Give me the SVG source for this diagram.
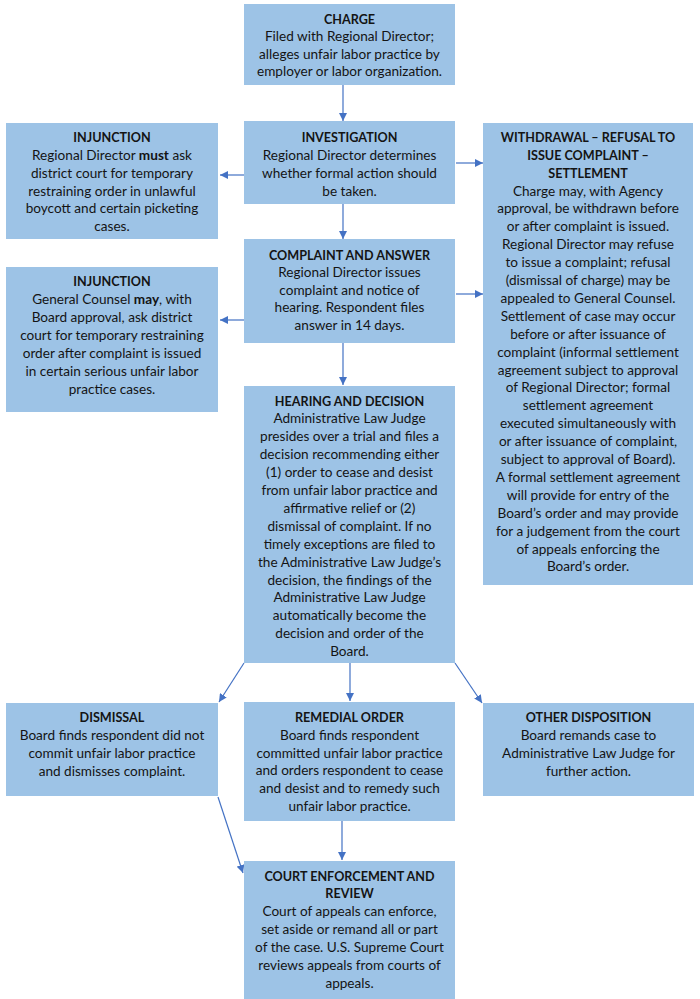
<svg xmlns="http://www.w3.org/2000/svg" width="700" height="999" viewBox="0 0 700 999">
<style>
.box{fill:#9DC3E6;}
text{font-family:Lato,"Liberation Sans",sans-serif;font-size:13.6px;fill:#141414;text-anchor:middle;}
.t{font-weight:bold;font-size:12.6px;}
.b{font-weight:bold;}
.c{stroke:#4472C4;stroke-width:1.2;fill:none;marker-end:url(#ah);}
</style>
<defs>
<marker id="ah" viewBox="0 0 10 10" refX="10" refY="5" markerWidth="8" markerHeight="8" markerUnits="userSpaceOnUse" orient="auto">
<path d="M0,0 L10,5 L0,10 z" fill="#4472C4"/>
</marker>
</defs>
<rect width="700" height="999" fill="#ffffff"/>
<g id="connectors">
<line class="c" x1="343" y1="85" x2="343" y2="121"/>
<line class="c" x1="343" y1="204" x2="343" y2="239"/>
<line class="c" x1="343" y1="343" x2="343" y2="385"/>
<line class="c" x1="244" y1="175" x2="220" y2="175"/>
<line class="c" x1="456" y1="163" x2="483" y2="163"/>
<line class="c" x1="244" y1="320" x2="220" y2="320"/>
<line class="c" x1="456" y1="294" x2="483" y2="294"/>
<line class="c" x1="244" y1="663" x2="219" y2="702"/>
<line class="c" x1="350" y1="663" x2="350" y2="701"/>
<line class="c" x1="455" y1="663" x2="482" y2="703"/>
<line class="c" x1="218" y1="797" x2="243" y2="873"/>
<line class="c" x1="342" y1="821" x2="342" y2="860"/>
</g>
<g id="charge">
<rect class="box" x="244" y="4" width="211" height="81"/>
<text class="t" x="349.5" y="23.5">CHARGE</text>
<text x="349.5" y="41.1">Filed with Regional Director;</text>
<text x="349.5" y="58.7">alleges unfair labor practice by</text>
<text x="349.5" y="76.3">employer or labor organization.</text>
</g>
<g id="investigation">
<rect class="box" x="244" y="121" width="211" height="83"/>
<text class="t" x="349.5" y="141.8">INVESTIGATION</text>
<text x="349.5" y="159.7">Regional Director determines</text>
<text x="349.5" y="177.6">whether formal action should</text>
<text x="349.5" y="195.5">be taken.</text>
</g>
<g id="injunction1">
<rect class="box" x="6" y="123" width="212" height="116"/>
<text class="t" x="112" y="141.8">INJUNCTION</text>
<text x="112" y="159.7">Regional Director <tspan class="b">must</tspan> ask</text>
<text x="112" y="177.6">district court for temporary</text>
<text x="112" y="195.5">restraining order in unlawful</text>
<text x="112" y="213.4">boycott and certain picketing</text>
<text x="112" y="231.3">cases.</text>
</g>
<g id="withdrawal">
<rect class="box" x="483" y="123" width="210" height="462"/>
<text class="t" x="588" y="141.8">WITHDRAWAL – REFUSAL TO</text>
<text class="t" x="588" y="159.7">ISSUE COMPLAINT –</text>
<text class="t" x="588" y="177.6">SETTLEMENT</text>
<text x="588" y="195.5">Charge may, with Agency</text>
<text x="588" y="213.4">approval, be withdrawn before</text>
<text x="588" y="231.3">or after complaint is issued.</text>
<text x="588" y="249.2">Regional Director may refuse</text>
<text x="588" y="267.1">to issue a complaint; refusal</text>
<text x="588" y="285.0">(dismissal of charge) may be</text>
<text x="588" y="302.9">appealed to General Counsel.</text>
<text x="588" y="320.8">Settlement of case may occur</text>
<text x="588" y="338.7">before or after issuance of</text>
<text x="588" y="356.6">complaint (informal settlement</text>
<text x="588" y="374.5">agreement subject to approval</text>
<text x="588" y="392.4">of Regional Director; formal</text>
<text x="588" y="410.3">settlement agreement</text>
<text x="588" y="428.2">executed simultaneously with</text>
<text x="588" y="446.1">or after issuance of complaint,</text>
<text x="588" y="464.0">subject to approval of Board).</text>
<text x="588" y="481.9">A formal settlement agreement</text>
<text x="588" y="499.8">will provide for entry of the</text>
<text x="588" y="517.7">Board’s order and may provide</text>
<text x="588" y="535.6">for a judgement from the court</text>
<text x="588" y="553.5">of appeals enforcing the</text>
<text x="588" y="571.4">Board’s order.</text>
</g>
<g id="complaint">
<rect class="box" x="244" y="239" width="211" height="104"/>
<text class="t" x="349.5" y="259.5">COMPLAINT AND ANSWER</text>
<text x="349.5" y="277.1">Regional Director issues</text>
<text x="349.5" y="294.7">complaint and notice of</text>
<text x="349.5" y="312.3">hearing. Respondent files</text>
<text x="349.5" y="329.9">answer in 14 days.</text>
</g>
<g id="injunction2">
<rect class="box" x="6" y="267" width="212" height="145"/>
<text class="t" x="112" y="286.2">INJUNCTION</text>
<text x="112" y="304.2">General Counsel <tspan class="b">may</tspan>, with</text>
<text x="112" y="322.2">Board approval, ask district</text>
<text x="112" y="340.2">court for temporary restraining</text>
<text x="112" y="358.2">order after complaint is issued</text>
<text x="112" y="376.2">in certain serious unfair labor</text>
<text x="112" y="394.2">practice cases.</text>
</g>
<g id="hearing">
<rect class="box" x="244" y="386" width="211" height="277"/>
<text class="t" x="349.5" y="405.5">HEARING AND DECISION</text>
<text x="349.5" y="423.4">Administrative Law Judge</text>
<text x="349.5" y="441.3">presides over a trial and files a</text>
<text x="349.5" y="459.2">decision recommending either</text>
<text x="349.5" y="477.1">(1) order to cease and desist</text>
<text x="349.5" y="495.0">from unfair labor practice and</text>
<text x="349.5" y="512.9">affirmative relief or (2)</text>
<text x="349.5" y="530.8">dismissal of complaint. If no</text>
<text x="349.5" y="548.7">timely exceptions are filed to</text>
<text x="349.5" y="566.6">the Administrative Law Judge’s</text>
<text x="349.5" y="584.5">decision, the findings of the</text>
<text x="349.5" y="602.4">Administrative Law Judge</text>
<text x="349.5" y="620.3">automatically become the</text>
<text x="349.5" y="638.2">decision and order of the</text>
<text x="349.5" y="656.1">Board.</text>
</g>
<g id="dismissal">
<rect class="box" x="6" y="703" width="212" height="93"/>
<text class="t" x="112" y="722.2">DISMISSAL</text>
<text x="112" y="740.2">Board finds respondent did not</text>
<text x="112" y="758.2">commit unfair labor practice</text>
<text x="112" y="776.2">and dismisses complaint.</text>
</g>
<g id="remedial">
<rect class="box" x="244" y="702" width="211" height="119"/>
<text class="t" x="349.5" y="722.2">REMEDIAL ORDER</text>
<text x="349.5" y="739.9">Board finds respondent</text>
<text x="349.5" y="757.6">committed unfair labor practice</text>
<text x="349.5" y="775.3">and orders respondent to cease</text>
<text x="349.5" y="793.0">and desist and to remedy such</text>
<text x="349.5" y="810.7">unfair labor practice.</text>
</g>
<g id="other">
<rect class="box" x="483" y="703" width="211" height="93"/>
<text class="t" x="588.5" y="722.2">OTHER DISPOSITION</text>
<text x="588.5" y="740.0">Board remands case to</text>
<text x="588.5" y="757.8">Administrative Law Judge for</text>
<text x="588.5" y="775.6">further action.</text>
</g>
<g id="court">
<rect class="box" x="244" y="861" width="211" height="138"/>
<text class="t" x="349.5" y="880.5">COURT ENFORCEMENT AND</text>
<text class="t" x="349.5" y="898.4">REVIEW</text>
<text x="349.5" y="916.3">Court of appeals can enforce,</text>
<text x="349.5" y="934.2">set aside or remand all or part</text>
<text x="349.5" y="952.1">of the case. U.S. Supreme Court</text>
<text x="349.5" y="970.0">reviews appeals from courts of</text>
<text x="349.5" y="987.9">appeals.</text>
</g>
</svg>
